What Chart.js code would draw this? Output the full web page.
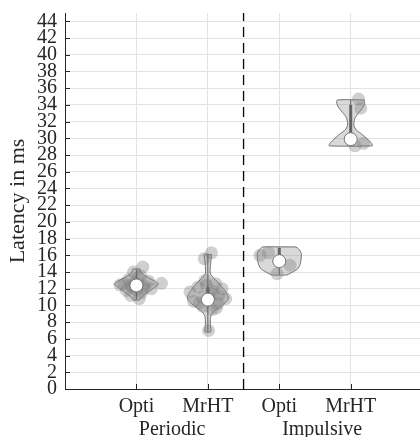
<!DOCTYPE html>
<html>
<head>
<meta charset="utf-8">
<script src="https://cdn.jsdelivr.net/npm/chart.js@4.4.1/dist/chart.umd.min.js"></script>
<style>
html,body{margin:0;padding:0;background:#fff;}
#c{display:block;}
</style>
</head>
<body>
<canvas id="c" width="420" height="437"></canvas>
<script>
// ---------- data ----------
const categories = ['Opti', 'MrHT', 'Opti', 'MrHT'];
const catPos = [1, 2, 3, 4];
const groups = ['Periodic', 'Impulsive'];
const groupPos = [1.5, 3.6];
const separatorPos = 2.5;
const yTicks = [0,2,4,6,8,10,12,14,16,18,20,22,24,26,28,30,32,34,36,38,40,42,44];
const yMax = 45;
const xMax = 4.97;

const medians = [12.4, 10.7, 15.3, 29.9];
const boxLow = [11.9, 9.9, 14.8, 29.4];
const boxHigh = [12.9, 12.2, 16.9, 34.0];
const whiskLow = [10.7, 6.9, 13.7, 29.1];
const whiskHigh = [14.3, 16.1, 16.9, 34.6];

// raw samples (latency in ms) and their horizontal jitter (in category units)
const samplesOptiPer = [14.6, 14.0, 13.5, 13.3, 13.1, 12.9, 12.7, 12.65, 12.6, 12.5, 12.45, 12.4, 12.3, 12.2, 12.1, 12.0, 11.9, 11.8, 11.5, 11.2, 10.8];
const jitterOptiPer  = [0.09, -0.04, 0.06, 0.02, -0.11, 0.17, -0.02, 0.35, -0.17, 0.02, -0.23, -0.08, 0.11, -0.06, 0.1, 0.21, 0.0, -0.14, 0.07, -0.08, 0.04];
const samplesMrhtPer = [16.3, 15.6, 13.0, 12.6, 12.4, 12.2, 12.0, 11.8, 11.6, 11.3, 11.2, 11.0, 10.9, 10.8, 10.5, 10.3, 10.2, 9.9, 9.7, 9.5, 7.0];
const jitterMrhtPer  = [0.05, -0.05, -0.04, 0.11, -0.02, -0.14, 0.2, 0.05, -0.25, 0.08, 0.15, -0.08, 0.02, 0.25, -0.2, -0.12, 0.14, -0.07, 0.12, 0.06, 0.01];
const samplesOptiImp = [16.3, 16.0, 15.3, 14.8, 13.8];
const jitterOptiImp  = [-0.15, -0.27, 0.0, 0.15, -0.03];
const samplesMrhtImp = [34.7, 33.6, 29.9, 29.4, 29.1];
const jitterMrhtImp  = [0.11, 0.14, 0.0, 0.18, 0.06];

// violin outlines: density half-width (category units) at latency levels
const levelsOptiPer = [14.35, 14.0, 13.7, 13.4, 13.1, 12.8, 12.55, 12.3, 12.0, 11.6, 11.2, 10.9, 10.65];
const widthsOptiPer = [0.052, 0.063, 0.098, 0.154, 0.217, 0.28, 0.308, 0.28, 0.231, 0.168, 0.105, 0.063, 0.042];
const levelsMrhtPer = [16.1, 15.5, 14.8, 14.2, 13.8, 13.3, 12.8, 12.3, 11.8, 11.3, 10.8, 10.4, 10.0, 9.6, 9.2, 8.8, 8.3, 7.6, 6.85];
const widthsMrhtPer = [0.052, 0.045, 0.036, 0.032, 0.036, 0.077, 0.14, 0.189, 0.238, 0.273, 0.287, 0.252, 0.196, 0.133, 0.077, 0.045, 0.035, 0.035, 0.042];
const levelsOptiImp = [17.0, 16.8, 16.5, 16.2, 15.8, 15.3, 14.8, 14.4, 14.1, 13.85, 13.65];
const widthsOptiImp = [0.231, 0.266, 0.294, 0.308, 0.308, 0.301, 0.287, 0.259, 0.21, 0.154, 0.105];
const levelsMrhtImp = [34.6, 34.3, 34.0, 33.5, 33.0, 32.5, 32.0, 31.5, 31.0, 30.6, 30.2, 29.8, 29.4, 29.1];
const widthsMrhtImp = [0.186, 0.196, 0.189, 0.154, 0.105, 0.063, 0.046, 0.046, 0.077, 0.14, 0.196, 0.245, 0.294, 0.301];

// ---------- build ----------
const samples = [samplesOptiPer, samplesMrhtPer, samplesOptiImp, samplesMrhtImp];
const jitters = [jitterOptiPer, jitterMrhtPer, jitterOptiImp, jitterMrhtImp];
const levels = [levelsOptiPer, levelsMrhtPer, levelsOptiImp, levelsMrhtImp];
const widths = [widthsOptiPer, widthsMrhtPer, widthsOptiImp, widthsMrhtImp];

const TXT = '#262626';
const FONT = '"Liberation Serif", "Times New Roman", serif';

const datasets = [];
catPos.forEach((c, i) => {
  const lv = levels[i], w = widths[i];
  const outline = [];
  for (let k = 0; k < lv.length; k++) outline.push({x: c + w[k], y: lv[k]});
  for (let k = lv.length - 1; k >= 0; k--) outline.push({x: c - w[k], y: lv[k]});
  outline.push({x: c + w[0], y: lv[0]});
  datasets.push({
    type: 'line', data: outline, showLine: true, fill: 'shape',
    backgroundColor: 'rgba(128,128,128,0.3)', borderColor: 'rgb(110,110,110)',
    borderWidth: 1, pointRadius: 0, tension: 0.2, order: 6
  });
  datasets.push({
    type: 'scatter', data: samples[i].map((v, k) => ({x: c + jitters[i][k], y: v})),
    backgroundColor: 'rgba(128,128,128,0.38)', borderWidth: 0, pointRadius: 6.5, order: 5
  });
  datasets.push({
    type: 'line', data: [{x: c, y: whiskLow[i]}, {x: c, y: whiskHigh[i]}],
    borderColor: 'rgb(100,100,100)', borderWidth: 1, pointRadius: 0, fill: false, order: 4
  });
  datasets.push({
    type: 'line', data: [{x: c, y: boxLow[i]}, {x: c, y: boxHigh[i]}],
    borderColor: 'rgb(100,100,100)', borderWidth: 3, pointRadius: 0, fill: false, order: 3
  });
  datasets.push({
    type: 'scatter', data: [{x: c, y: medians[i]}],
    backgroundColor: '#ffffff', borderColor: 'rgb(115,115,115)', borderWidth: 1, pointRadius: 6.5, order: 2
  });
});
datasets.push({
  type: 'line', data: [{x: separatorPos, y: 0}, {x: separatorPos, y: yMax}],
  borderColor: '#000', borderWidth: 1.3, borderDash: [10, 6], pointRadius: 0, fill: false, order: 1
});

const decor = {
  id: 'decor',
  afterDraw(chart) {
    const {ctx, chartArea: a} = chart;
    const x = chart.scales.x, y = chart.scales.y;
    ctx.save();
    ctx.strokeStyle = TXT; ctx.lineWidth = 1;
    ctx.beginPath();
    yTicks.forEach(v => {
      const py = Math.round(y.getPixelForValue(v)) + 0.5;
      ctx.moveTo(a.left, py); ctx.lineTo(a.left + 5, py);
    });
    catPos.forEach(v => {
      const px = Math.round(x.getPixelForValue(v)) + 0.5;
      ctx.moveTo(px, a.bottom); ctx.lineTo(px, a.bottom - 5);
    });
    ctx.stroke();
    ctx.fillStyle = TXT;
    ctx.font = '20px ' + FONT;
    ctx.textAlign = 'center';
    ctx.textBaseline = 'alphabetic';
    groups.forEach((g, i) => ctx.fillText(g, x.getPixelForValue(groupPos[i]), a.bottom + 46));
    ctx.restore();
  }
};

const noPad = s => { s.paddingTop = 0; s.paddingBottom = 0; s.paddingLeft = 0; s.paddingRight = 0; };

new Chart(document.getElementById('c'), {
  type: 'scatter',
  data: {datasets},
  plugins: [decor],
  options: {
    responsive: false, animation: false, devicePixelRatio: 1,
    layout: {autoPadding: false, padding: {top: 13, right: 0, left: 0, bottom: 0}},
    plugins: {legend: {display: false}, tooltip: {enabled: false}},
    scales: {
      x: {
        type: 'linear', min: 0, max: xMax,
        afterBuildTicks: s => { s.ticks = catPos.map(v => ({value: v})); },
        afterFit: s => { s.height = 48; noPad(s); },
        ticks: {
          autoSkip: false, maxRotation: 0, padding: 6, color: TXT,
          font: {family: FONT, size: 20},
          callback: (v) => categories[catPos.indexOf(v)]
        },
        grid: {color: '#e3e3e3', drawTicks: false},
        border: {color: TXT, width: 1}
      },
      y: {
        type: 'linear', min: 0, max: yMax,
        afterBuildTicks: s => { s.ticks = yTicks.map(v => ({value: v})); },
        afterFit: s => { s.width = 65; noPad(s); },
        ticks: {autoSkip: false, padding: 8, color: TXT, font: {family: FONT, size: 20}},
        grid: {color: '#e3e3e3', drawTicks: false},
        border: {color: TXT, width: 1},
        title: {display: true, text: 'Latency in ms', color: TXT, font: {family: FONT, size: 22}, padding: {top: 5, bottom: 0}}
      }
    }
  }
});
</script>
</body>
</html>
